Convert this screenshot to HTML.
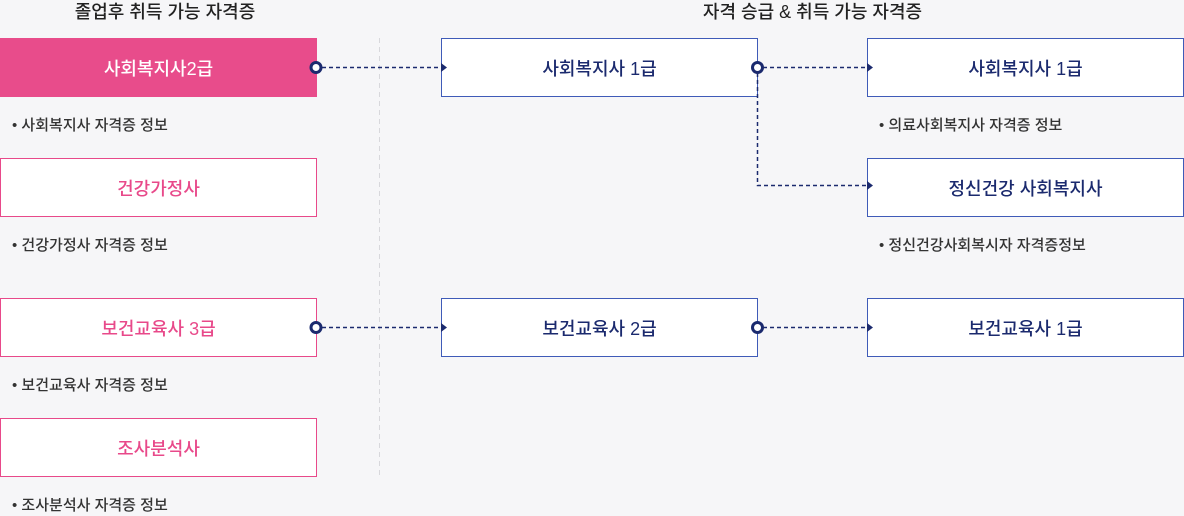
<!DOCTYPE html>
<html><head><meta charset="utf-8"><style>
*{margin:0;padding:0;box-sizing:border-box}
body{width:1184px;height:514px;background:#f6f6f8;position:relative;overflow:hidden;font-family:"Liberation Sans","Noto Sans CJK KR",sans-serif}
.t{position:absolute;top:0;font-size:18px;color:#222;text-align:center;line-height:24px;font-weight:500}
.b{position:absolute;height:59px;display:flex;align-items:center;justify-content:center;font-size:18px;background:#fff;font-weight:500}
.p{border:1px solid #e8498a;color:#e8498a}
.f{background:#e84c8b;color:#fff;border:none}
.n{border:1px solid #3f5bb8;color:#1b2a6e}
.i{position:absolute;font-size:15px;color:#333;line-height:20px;font-weight:500}
svg{position:absolute;left:0;top:0}
</style></head><body>
<div class="t" style="left:0;width:330px">졸업후 취득 가능 자격증</div>
<div class="t" style="left:640px;width:345px">자격 승급 &amp; 취득 가능 자격증</div>

<div class="b f" style="left:0;top:38px;width:317px">사회복지사2급</div>
<div class="i" style="left:12px;top:116px">• 사회복지사 자격증 정보</div>
<div class="b p" style="left:0;top:158px;width:317px">건강가정사</div>
<div class="i" style="left:12px;top:236px">• 건강가정사 자격증 정보</div>
<div class="b p" style="left:0;top:298px;width:317px">보건교육사 3급</div>
<div class="i" style="left:12px;top:376px">• 보건교육사 자격증 정보</div>
<div class="b p" style="left:0;top:418px;width:317px">조사분석사</div>
<div class="i" style="left:12px;top:496px">• 조사분석사 자격증 정보</div>

<div class="b n" style="left:441px;top:38px;width:317px">사회복지사 1급</div>
<div class="b n" style="left:441px;top:298px;width:317px">보건교육사 2급</div>

<div class="b n" style="left:867px;top:38px;width:317px">사회복지사 1급</div>
<div class="i" style="left:879px;top:116px">• 의료사회복지사 자격증 정보</div>
<div class="b n" style="left:867px;top:158px;width:317px">정신건강 사회복지사</div>
<div class="i" style="left:879px;top:236px">• 정신건강사회복시자 자격증정보</div>
<div class="b n" style="left:867px;top:298px;width:317px">보건교육사 1급</div>

<svg width="1184" height="514">
<line x1="379.5" y1="38" x2="379.5" y2="476" stroke="#d8d8dc" stroke-dasharray="5,4"/>
<g stroke="#1b2a6e" stroke-width="1.5" stroke-dasharray="4,3" fill="none">
<line x1="322" y1="67.5" x2="442" y2="67.5"/>
<line x1="322" y1="327.5" x2="442" y2="327.5"/>
<line x1="763" y1="67.5" x2="868" y2="67.5"/>
<line x1="763" y1="327.5" x2="868" y2="327.5"/>
<polyline points="757.5,73 757.5,185.5 868,185.5"/>
</g>
<g fill="#1b2a6e">
<polygon points="441,63 447,67.5 441,72"/>
<polygon points="441,323 447,327.5 441,332"/>
<polygon points="867,63 873,67.5 867,72"/>
<polygon points="867,181 873,185.5 867,190"/>
<polygon points="867,323 873,327.5 867,332"/>
</g>
<g fill="#fff" stroke="#1b2a6e" stroke-width="3">
<circle cx="316" cy="67.5" r="5"/>
<circle cx="316" cy="327.5" r="5"/>
<circle cx="757.5" cy="67.5" r="5"/>
<circle cx="757.5" cy="327.5" r="5"/>
</g>
</svg>
</body></html>
